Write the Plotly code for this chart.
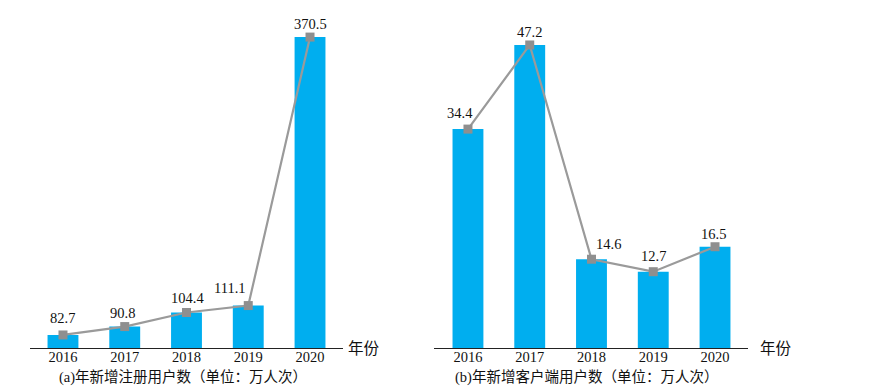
import plotly.graph_objects as go

years = ["2016", "2017", "2018", "2019", "2020"]
registered = [82.7, 90.8, 104.4, 111.1, 370.5]
client = [34.4, 47.2, 14.6, 12.7, 16.5]
caption_a = "(a)年新增注册用户数（单位：万人次）"
caption_b = "(b)年新增客户端用户数（单位：万人次）"
axis_unit = "年份"

W, H = 876, 388
OFF = 8  # page body margin in the browser
BAR = "#00AEEF"
LINE = "#9a9a9a"
MARK = "#8f8f8f"
SERIF = "Liberation Serif, Times New Roman, Noto Sans CJK SC, serif"


def px(x):
    return (x - OFF) / W


def py(y):
    return (H - (y - OFF)) / H


fig = go.Figure()

for xa, ya, vals in [("x", "y", registered), ("x2", "y2", client)]:
    fig.add_trace(go.Bar(x=years, y=vals, xaxis=xa, yaxis=ya, marker_color=BAR,
                         marker_line_width=0, width=0.5, showlegend=False))
    fig.add_trace(go.Scatter(x=years, y=vals, xaxis=xa, yaxis=ya, mode="lines+markers",
                             line=dict(color=LINE, width=2.2),
                             marker=dict(symbol="square", size=9, color=MARK),
                             showlegend=False, cliponaxis=False))

# value label offsets (px) relative to the markers
label_style = {
    "a": dict(dx=[0, -2, 1, -18, 0], dy=[17, 14, 15, 18, 13]),
    "b": dict(dx=[-8, 0, 17, 0, -2], dy=[16, 13, 15, 16, 13]),
}
for key, xa, ya, vals in [("a", "x", "y", registered), ("b", "x2", "y2", client)]:
    st = label_style[key]
    for i, v in enumerate(vals):
        fig.add_annotation(x=i, y=v, xref=xa, yref=ya, text=f"{v:.1f}", showarrow=False,
                           yshift=st["dy"][i], xshift=st["dx"][i],
                           xanchor="center", yanchor="middle",
                           font=dict(family=SERIF, size=14.5, color="#111"))

tick_font = dict(family=SERIF, size=14.5, color="#111")
fig.update_layout(
    width=W, height=H, margin=dict(l=0, r=0, t=0, b=0),
    paper_bgcolor="white", plot_bgcolor="white", bargap=0.5,
    xaxis=dict(domain=[px(30), px(343)], range=[-0.534, 4.534], type="category",
               showline=True, linecolor="#222", linewidth=1.2, showgrid=False, ticks="",
               tickfont=tick_font, ticklabelstandoff=-5, anchor="y"),
    yaxis=dict(domain=[py(348), py(20)], range=[70.1, 387], visible=False, anchor="x"),
    xaxis2=dict(domain=[px(434), px(748)], range=[-0.55, 4.534], type="category",
                showline=True, linecolor="#222", linewidth=1.2, showgrid=False, ticks="",
                tickfont=tick_font, ticklabelstandoff=-5, anchor="y2"),
    yaxis2=dict(domain=[py(348), py(20)], range=[1.09, 51.0], visible=False, anchor="x2"),
)

for cx, txt in [(183, caption_a), (586, caption_b)]:
    fig.add_annotation(x=px(cx), y=py(377), xref="paper", yref="paper", text=txt,
                       showarrow=False, xanchor="center", yanchor="middle",
                       font=dict(family=SERIF, size=14.5, color="#111"))
for cx in [364, 776]:
    fig.add_annotation(x=px(cx), y=py(348), xref="paper", yref="paper", text=axis_unit,
                       showarrow=False, xanchor="center", yanchor="middle",
                       font=dict(family=SERIF, size=15.5, color="#111"))

fig.write_html("out.html")
